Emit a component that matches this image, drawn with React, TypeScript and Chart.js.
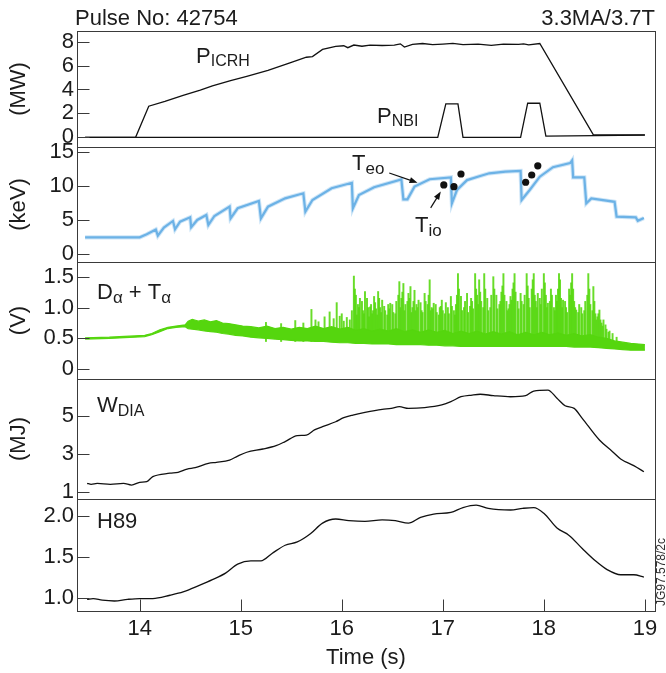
import React, { useEffect, useRef } from "react";
import { Chart, registerables } from "chart.js";
Chart.register(...registerables);

const FONT = "'Liberation Sans', Arial, Helvetica, sans-serif";
const INK = "#1c1c1c";
const FRAME = "#3a3a3a";
const BLUE_CORE = "#6cb2e6";
const BLUE_HALO = "rgba(130,190,236,0.4)";
const GREEN = "#55d60e";
const SPIKE_GREEN = "rgba(88,216,18,0.9)";
const PAD = 16;

const X_MIN = 13.38;
const X_MAX = 19.1;
const X_TICKS = [14, 15, 16, 17, 18, 19];
const X_LABELS = ["14", "15", "16", "17", "18", "19"];

// ---- Panel 1: heating power (MW)
const icrhTime = [13.46, 13.96, 14.09, 14.25, 14.43, 14.6, 14.72, 14.9, 15.06, 15.27,
  15.48, 15.65, 15.71, 15.81, 15.94, 16.02, 16.06, 16.12, 16.2, 16.28,
  16.4, 16.52, 16.58, 16.62, 16.7, 16.8, 16.9, 17.0, 17.1, 17.2,
  17.35, 17.48, 17.6, 17.75, 17.8, 17.85, 17.96, 18.49, 19.0];
const icrhMW = [0, 0, 2.6, 3.0, 3.5, 3.95, 4.3, 4.75, 5.1, 5.6,
  6.2, 6.7, 6.75, 7.35, 7.6, 7.66, 7.5, 7.72, 7.62, 7.72,
  7.68, 7.72, 7.82, 7.55, 7.78, 7.85, 7.75, 7.8, 7.86, 7.76,
  7.8, 7.7, 7.8, 7.78, 7.82, 7.74, 7.85, 0.2, 0.2];
const nbiTime = [13.46, 16.95, 17.03, 17.15, 17.2, 17.77, 17.84, 17.96, 18.02, 19.0];
const nbiMW = [0, 0, 2.8, 2.8, 0, 0, 2.85, 2.85, 0.1, 0.18];

// ---- Panel 2: central temperatures (keV)
const teoTime = [13.46, 14.0, 14.07, 14.16, 14.18, 14.24, 14.33, 14.35, 14.4, 14.5,
  14.51, 14.57, 14.66, 14.68, 14.74, 14.89, 14.9, 14.97, 15.18, 15.2,
  15.27, 15.44, 15.62, 15.64, 15.71, 15.9, 16.1, 16.11, 16.17, 16.32,
  16.59, 16.61, 16.65, 16.72, 16.87, 17.08, 17.09, 17.14, 17.24, 17.37,
  17.46, 17.62, 17.77, 17.78, 17.86, 17.96, 18.09, 18.26, 18.28, 18.29,
  18.4, 18.42, 18.47, 18.7, 18.72, 18.91, 18.93, 18.99];
const teoKeV = [2.46, 2.46, 2.9, 3.6, 2.7, 3.9, 4.87, 3.64, 4.77, 5.41,
  3.94, 5.02, 5.75, 4.28, 5.61, 6.98, 5.26, 6.74, 7.82, 5.26,
  6.98, 8.21, 8.95, 6.25, 7.97, 9.69, 10.5, 6.74, 8.71, 9.84,
  11.0, 8.07, 8.07, 9.94, 11.02, 11.3, 7.48, 9.44, 10.9, 11.5,
  11.9, 12.15, 12.25, 7.97, 9.44, 11.4, 12.8, 13.4, 13.8, 11.3,
  11.3, 7.48, 8.2, 7.7, 5.5, 5.4, 4.9, 5.3];
const tioTime = [17.01, 17.11, 17.18, 17.82, 17.88, 17.94];
const tioKeV = [10.18, 9.93, 11.8, 10.58, 11.65, 13.0];
// annotation arrows [t0, v0, t1, v1] in data units
const teoArrow = [16.47, 11.95, 16.75, 10.5];
const tioArrow = [16.88, 6.8, 16.98, 9.2];

// ---- Panel 3: D-alpha + T-alpha (V)
const daTime = [13.46, 13.7, 13.95, 14.05, 14.12, 14.2, 14.28, 14.36, 14.45, 14.48,
  14.52, 14.58, 14.64, 14.7, 14.76, 14.82, 14.88, 14.95, 15.02, 15.1,
  15.18, 15.26, 15.34, 15.42, 15.5, 15.58, 15.66, 15.74, 15.82, 15.9,
  15.98, 16.06, 16.14, 16.22, 16.3, 16.38, 16.46, 16.54, 16.62, 16.7,
  16.78, 16.86, 16.94, 17.02, 17.1, 17.18, 17.26, 17.34, 17.42, 17.5,
  17.58, 17.66, 17.74, 17.82, 17.9, 17.98, 18.06, 18.14, 18.22, 18.3,
  18.38, 18.46, 18.54, 18.62, 18.7, 18.78, 18.86, 18.94, 19.0];
const daLow = [0.49, 0.5, 0.52, 0.53, 0.56, 0.61, 0.66, 0.68, 0.69, 0.66,
  0.65, 0.64, 0.62, 0.61, 0.6, 0.58, 0.57, 0.55, 0.54, 0.52,
  0.51, 0.5, 0.49, 0.48, 0.47, 0.46, 0.46, 0.45, 0.45, 0.44,
  0.43, 0.43, 0.42, 0.42, 0.41, 0.41, 0.41, 0.4, 0.4, 0.4,
  0.4, 0.39, 0.39, 0.38, 0.38, 0.37, 0.37, 0.37, 0.37, 0.37,
  0.37, 0.37, 0.37, 0.37, 0.37, 0.37, 0.37, 0.37, 0.37, 0.36,
  0.36, 0.36, 0.35, 0.34, 0.33, 0.32, 0.31, 0.31, 0.31];
const daHigh = [0.51, 0.52, 0.54, 0.55, 0.58, 0.64, 0.68, 0.7, 0.72, 0.78,
  0.81, 0.78, 0.8, 0.77, 0.79, 0.75, 0.74, 0.72, 0.7, 0.69,
  0.67, 0.7, 0.66, 0.68, 0.65, 0.68, 0.66, 0.7, 0.66, 0.69,
  0.65, 0.68, 0.63, 0.66, 0.62, 0.65, 0.62, 0.66, 0.61, 0.64,
  0.6, 0.64, 0.6, 0.63, 0.58, 0.62, 0.58, 0.62, 0.57, 0.61,
  0.57, 0.61, 0.56, 0.6, 0.56, 0.6, 0.56, 0.59, 0.55, 0.58,
  0.54, 0.56, 0.52, 0.5, 0.46, 0.44, 0.42, 0.41, 0.4];
const SPIKE_BASE = 0.45;
// main (tallest) spikes
const spikeTime = [15.25, 15.4, 15.54, 15.62, 15.7, 15.74, 15.77, 15.83, 15.88, 15.92,
  15.95, 15.98, 16.0, 16.05, 16.08, 16.12, 16.14, 16.16, 16.18, 16.21,
  16.23, 16.26, 16.28, 16.3, 16.32, 16.34, 16.36, 16.38, 16.4, 16.43,
  16.46, 16.48, 16.51, 16.54, 16.57, 16.59, 16.61, 16.63, 16.66, 16.68,
  16.7, 16.72, 16.74, 16.76, 16.79, 16.82, 16.85, 16.87, 16.89, 16.91,
  16.94, 16.97, 16.99, 17.02, 17.05, 17.08, 17.11, 17.13, 17.15, 17.18,
  17.21, 17.24, 17.27, 17.29, 17.32, 17.34, 17.36, 17.38, 17.41, 17.44,
  17.47, 17.5, 17.53, 17.56, 17.58, 17.6, 17.63, 17.65, 17.67, 17.69,
  17.71, 17.74, 17.77, 17.8, 17.83, 17.85, 17.88, 17.9, 17.92, 17.94,
  17.97, 18.0, 18.02, 18.04, 18.07, 18.1, 18.12, 18.15, 18.17, 18.19,
  18.22, 18.25, 18.28, 18.3, 18.32, 18.35, 18.38, 18.41, 18.44, 18.46,
  18.49, 18.51, 18.53, 18.55, 18.57, 18.59, 18.62, 18.65, 18.68, 18.72];
const spikePeak = [0.76, 0.74, 0.79, 0.75, 0.97, 0.8, 0.77, 0.85, 0.93, 0.82,
  1.08, 0.86, 0.9, 0.84, 0.8, 1.51, 1.2, 1.05, 1.15, 0.95,
  1.26, 1.0, 1.01, 0.9, 1.18, 0.98, 1.26, 1.0, 1.12, 0.95,
  1.05, 1.07, 0.92, 1.1, 1.42, 1.15, 1.39, 1.05, 1.23, 1.34,
  1.0, 1.28, 1.05, 1.12, 0.95, 1.23, 1.05, 1.45, 1.0, 1.07,
  0.92, 1.0, 1.12, 0.9, 1.0, 1.18, 0.95, 1.05, 1.55, 1.18,
  1.0, 1.23, 1.02, 1.1, 1.55, 1.2, 1.45, 1.1, 1.55, 1.15,
  1.0, 1.5, 1.2, 1.05, 1.25, 1.55, 1.1, 0.98, 1.18, 1.3,
  1.55, 1.1, 1.23, 1.05, 1.55, 1.15, 1.3, 1.55, 1.1, 1.23,
  1.05, 1.55, 1.2, 1.07, 1.3, 1.0, 1.2, 1.55, 1.15, 1.12,
  1.0, 1.3, 1.55, 1.1, 0.96, 1.05, 0.9, 1.1, 1.55, 1.05,
  1.34, 0.9, 0.85, 0.96, 0.75, 0.8, 0.65, 0.62, 0.58, 0.52];
// secondary spikes filling the burst region
const spike2Time = [16.02, 16.1, 16.13, 16.15, 16.17, 16.2, 16.22, 16.25, 16.27, 16.29,
  16.31, 16.33, 16.35, 16.37, 16.39, 16.42, 16.45, 16.47, 16.5, 16.53,
  16.56, 16.58, 16.6, 16.62, 16.65, 16.67, 16.69, 16.71, 16.73, 16.75,
  16.78, 16.8, 16.83, 16.86, 16.88, 16.9, 16.93, 16.96, 16.98, 17.0,
  17.03, 17.06, 17.09, 17.12, 17.14, 17.16, 17.19, 17.22, 17.25, 17.28,
  17.3, 17.33, 17.35, 17.37, 17.4, 17.42, 17.45, 17.48, 17.51, 17.54,
  17.57, 17.59, 17.61, 17.64, 17.66, 17.68, 17.7, 17.72, 17.75, 17.78,
  17.81, 17.84, 17.86, 17.89, 17.91, 17.93, 17.96, 17.98, 18.01, 18.03,
  18.06, 18.08, 18.11, 18.13, 18.14, 18.16, 18.18, 18.21, 18.23, 18.26,
  18.27, 18.29, 18.31, 18.34, 18.37, 18.4, 18.43, 18.45, 18.48, 18.5,
  18.52, 18.54, 18.56, 18.58, 18.61, 18.64];
const spike2Peak = [0.78, 0.95, 1.3, 0.88, 1.0, 1.1, 0.9, 1.15, 0.85, 1.05,
  0.95, 1.08, 0.88, 1.15, 0.92, 1.02, 0.88, 0.98, 1.05, 0.9,
  1.2, 1.0, 1.25, 0.95, 1.1, 1.15, 0.92, 1.1, 0.95, 1.0,
  1.08, 0.92, 1.1, 1.2, 0.95, 0.98, 1.05, 0.88, 1.02, 0.95,
  1.08, 0.9, 1.02, 0.88, 1.2, 1.3, 0.95, 1.1, 0.92, 1.15,
  0.98, 1.3, 1.05, 1.25, 1.0, 1.3, 0.95, 1.2, 1.3, 0.98,
  1.1, 1.35, 1.2, 0.95, 1.05, 1.12, 1.4, 1.25, 0.98, 1.1,
  1.2, 1.35, 1.0, 1.45, 1.2, 1.0, 1.15, 1.3, 1.4, 1.0,
  1.1, 1.2, 0.95, 1.1, 1.3, 1.45, 1.0, 1.1, 0.92, 1.2,
  1.4, 1.3, 1.0, 0.92, 1.0, 0.95, 1.2, 1.3, 0.95, 1.1,
  0.8, 0.9, 0.8, 0.7, 0.72, 0.6];

// ---- Panel 4: diamagnetic energy (MJ)
const wdiaTime = [13.48, 13.52, 13.58, 13.71, 13.84, 13.92, 14.0, 14.07, 14.13, 14.3,
  14.38, 14.47, 14.55, 14.68, 14.76, 14.89, 14.97, 15.06, 15.22, 15.35,
  15.44, 15.56, 15.65, 15.73, 15.81, 15.94, 16.02, 16.11, 16.23, 16.4,
  16.49, 16.57, 16.66, 16.82, 16.99, 17.08, 17.18, 17.29, 17.37, 17.5,
  17.67, 17.82, 17.9, 18.04, 18.13, 18.21, 18.3, 18.38, 18.55, 18.68,
  18.76, 18.89, 18.99];
const wdiaMJ = [1.47, 1.42, 1.47, 1.42, 1.47, 1.38, 1.52, 1.56, 1.82, 2.0,
  2.05, 2.22, 2.29, 2.52, 2.57, 2.69, 2.9, 3.1, 3.27, 3.45,
  3.66, 3.97, 4.0, 4.27, 4.44, 4.7, 4.91, 5.05, 5.19, 5.35,
  5.4, 5.49, 5.4, 5.44, 5.58, 5.75, 6.01, 6.1, 6.14, 6.07,
  6.01, 6.07, 6.31, 6.36, 5.93, 5.54, 5.4, 4.88, 3.74, 3.13,
  2.75, 2.4, 2.08];

// ---- Panel 5: H89 confinement factor
const h89Time = [13.48, 13.54, 13.63, 13.75, 13.88, 14.0, 14.13, 14.3, 14.43, 14.59,
  14.72, 14.85, 14.97, 15.1, 15.2, 15.31, 15.44, 15.56, 15.69, 15.81,
  15.94, 16.07, 16.23, 16.4, 16.53, 16.66, 16.78, 16.91, 17.08, 17.2,
  17.33, 17.45, 17.67, 17.79, 17.9, 18.0, 18.13, 18.25, 18.38, 18.51,
  18.63, 18.76, 18.89, 18.99];
const h89 = [0.98, 0.99, 0.97, 0.96, 0.98, 0.99, 0.99, 1.03, 1.07, 1.15,
  1.22, 1.3, 1.41, 1.45, 1.45, 1.54, 1.64, 1.68, 1.78, 1.91,
  1.96, 1.94, 1.93, 1.95, 1.94, 1.91, 1.98, 2.02, 2.04, 2.1,
  2.13, 2.09, 2.07, 2.09, 2.1, 2.03, 1.85, 1.76, 1.6, 1.45,
  1.34, 1.28, 1.28, 1.25];

const pts = (xs: number[], ys: any[]) => xs.map((x, i) => ({ x, y: ys[i] }));

const lineDs = (xs: number[], ys: number[], color: string, width: number, extra: any = {}) => ({
  type: "line",
  data: pts(xs, ys),
  borderColor: color,
  borderWidth: width,
  pointRadius: 0,
  tension: 0,
  fill: false,
  ...extra,
});

const spikeDs = (xs: number[], peaks: number[]) => ({
  type: "bar",
  data: pts(xs, peaks.map((p) => [SPIKE_BASE, p])),
  backgroundColor: SPIKE_GREEN,
  borderWidth: 0,
  barThickness: 1.3,
  grouped: false,
});

const frameTicks = {
  id: "frameTicks",
  afterDraw(chart: any) {
    const { ctx, chartArea: a, scales } = chart;
    ctx.save();
    ctx.strokeStyle = FRAME;
    ctx.lineWidth = 1;
    const L = Math.round(a.left) + 0.5;
    const R = Math.round(a.right) + 0.5;
    const T = Math.round(a.top) + 0.5;
    const B = Math.round(a.bottom) + 0.5;
    ctx.strokeRect(L, T, R - L, B - T);
    ctx.beginPath();
    for (const t of scales.y.ticks) {
      const y = Math.round(scales.y.getPixelForValue(t.value)) + 0.5;
      ctx.moveTo(L, y);
      ctx.lineTo(L + 12, y);
    }
    if (scales.x.options.display) {
      for (const t of scales.x.ticks) {
        const x = Math.round(scales.x.getPixelForValue(t.value)) + 0.5;
        ctx.moveTo(x, B);
        ctx.lineTo(x, B - 12);
      }
    }
    ctx.stroke();
    ctx.restore();
  },
};

const arrows = {
  id: "arrows",
  afterDatasetsDraw(chart: any) {
    const { ctx, scales } = chart;
    ctx.save();
    ctx.strokeStyle = "#111";
    ctx.fillStyle = "#111";
    ctx.lineWidth = 1.2;
    for (const a of [teoArrow, tioArrow]) {
      const x1 = scales.x.getPixelForValue(a[0]);
      const y1 = scales.y.getPixelForValue(a[1]);
      const x2 = scales.x.getPixelForValue(a[2]);
      const y2 = scales.y.getPixelForValue(a[3]);
      const ang = Math.atan2(y2 - y1, x2 - x1);
      ctx.beginPath();
      ctx.moveTo(x1, y1);
      ctx.lineTo(x2 - 5 * Math.cos(ang), y2 - 5 * Math.sin(ang));
      ctx.stroke();
      ctx.beginPath();
      ctx.moveTo(x2, y2);
      ctx.lineTo(x2 - 8 * Math.cos(ang) + 3 * Math.sin(ang), y2 - 8 * Math.sin(ang) - 3 * Math.cos(ang));
      ctx.lineTo(x2 - 8 * Math.cos(ang) - 3 * Math.sin(ang), y2 - 8 * Math.sin(ang) + 3 * Math.cos(ang));
      ctx.closePath();
      ctx.fill();
    }
    ctx.restore();
  },
};

type PanelSpec = {
  frameTop: number;
  frameBottom: number;
  bottomAxis: boolean;
  yMin: number;
  yMax: number;
  yTicks: number[];
  yLabels: string[];
  yTitle: string;
  datasets: any[];
  plugins?: any[];
};

const X_AXIS_H = 62;

function buildConfig(s: PanelSpec): any {
  const tickFont = { family: FONT, size: 22 };
  const titleFont = { family: FONT, size: 22 };
  const xScale = s.bottomAxis
    ? {
        type: "linear",
        min: X_MIN,
        max: X_MAX,
        offset: false,
        afterFit: (sc: any) => {
          sc.height = X_AXIS_H;
          sc.paddingLeft = 0;
          sc.paddingRight = 0;
        },
        afterBuildTicks: (sc: any) => {
          sc.ticks = X_TICKS.map((v) => ({ value: v }));
        },
        ticks: {
          font: tickFont,
          color: INK,
          padding: 5,
          maxRotation: 0,
          autoSkip: false,
          callback: (_v: any, i: number) => X_LABELS[i],
        },
        grid: { display: false, drawTicks: false },
        border: { display: false },
        title: { display: true, text: "Time (s)", font: titleFont, color: INK, padding: { top: 0, bottom: 2 } },
      }
    : { type: "linear", display: false, min: X_MIN, max: X_MAX, offset: false };
  return {
    type: "line",
    data: { datasets: s.datasets },
    options: {
      responsive: false,
      animation: false,
      devicePixelRatio: 1,
      events: [],
      layout: { padding: { left: 0, right: 11, top: PAD, bottom: s.bottomAxis ? 0 : PAD } },
      plugins: { legend: { display: false }, tooltip: { enabled: false }, title: { display: false } },
      scales: {
        x: xScale,
        y: {
          type: "linear",
          min: s.yMin,
          max: s.yMax,
          afterFit: (sc: any) => {
            sc.width = 77;
            sc.paddingTop = 0;
            sc.paddingBottom = 0;
          },
          afterBuildTicks: (sc: any) => {
            sc.ticks = s.yTicks.map((v) => ({ value: v }));
          },
          ticks: {
            font: tickFont,
            color: INK,
            padding: 3,
            autoSkip: false,
            callback: (_v: any, i: number) => s.yLabels[i],
          },
          grid: { display: false, drawTicks: false },
          border: { display: false },
          title: {
            display: !!s.yTitle,
            text: s.yTitle,
            font: { family: FONT, size: 22 },
            color: INK,
            padding: { top: 6, bottom: 0 },
          },
        },
      },
    },
    plugins: [frameTicks, ...(s.plugins || [])],
  };
}

function Panel({ spec }: { spec: PanelSpec }) {
  const ref = useRef<HTMLCanvasElement>(null);
  const top = spec.frameTop - PAD;
  const height = spec.bottomAxis ? 673 - top : spec.frameBottom - spec.frameTop + 2 * PAD;
  useEffect(() => {
    const chart = new Chart(ref.current as HTMLCanvasElement, buildConfig(spec));
    return () => chart.destroy();
  }, []);
  return (
    <canvas
      ref={ref}
      width={666}
      height={height}
      style={{ position: "absolute", left: 0, top, width: 666, height }}
    />
  );
}

const panels: PanelSpec[] = [
  {
    frameTop: 31,
    frameBottom: 147,
    bottomAxis: false,
    yMin: -0.812,
    yMax: 8.895,
    yTicks: [0, 2, 4, 6, 8],
    yLabels: ["0", "2", "4", "6", "8"],
    yTitle: "(MW)",
    datasets: [lineDs(icrhTime, icrhMW, "#111", 1.3), lineDs(nbiTime, nbiMW, "#111", 1.3)],
  },
  {
    frameTop: 147,
    frameBottom: 262,
    bottomAxis: false,
    yMin: -1.18,
    yMax: 15.78,
    yTicks: [0, 5, 10, 15],
    yLabels: ["0", "5", "10", "15"],
    yTitle: "(keV)",
    datasets: [
      {
        type: "line",
        data: pts(tioTime, tioKeV),
        showLine: false,
        pointRadius: 3.6,
        pointBackgroundColor: "#111",
        pointBorderWidth: 0,
        order: 0,
      },
      lineDs(teoTime, teoKeV, BLUE_CORE, 2.2, { order: 1 }),
      lineDs(teoTime, teoKeV, BLUE_HALO, 4.2, { order: 2 }),
    ],
    plugins: [arrows],
  },
  {
    frameTop: 262,
    frameBottom: 379,
    bottomAxis: false,
    yMin: -0.157,
    yMax: 1.738,
    yTicks: [0, 0.5, 1, 1.5],
    yLabels: ["0", "0.5", "1.0", "1.5"],
    yTitle: "(V)",
    datasets: [
      lineDs(daTime, daLow, GREEN, 1.2),
      lineDs(daTime, daHigh, GREEN, 1.2, { fill: "-1", backgroundColor: GREEN }),
      spikeDs(spikeTime, spikePeak),
      spikeDs(spike2Time, spike2Peak),
    ],
  },
  {
    frameTop: 379,
    frameBottom: 499,
    bottomAxis: false,
    yMin: 0.649,
    yMax: 6.94,
    yTicks: [1, 3, 5],
    yLabels: ["1", "3", "5"],
    yTitle: "(MJ)",
    datasets: [lineDs(wdiaTime, wdiaMJ, "#111", 1.3, { cubicInterpolationMode: "monotone" })],
  },
  {
    frameTop: 499,
    frameBottom: 611,
    bottomAxis: true,
    yMin: 0.838,
    yMax: 2.204,
    yTicks: [1, 1.5, 2],
    yLabels: ["1.0", "1.5", "2.0"],
    yTitle: "",
    datasets: [lineDs(h89Time, h89, "#111", 1.3, { cubicInterpolationMode: "monotone" })],
  },
];

function Txt({ x, base, size = 22, right = false, children }: any) {
  const style: React.CSSProperties = {
    position: "absolute",
    top: base - 0.905 * size,
    fontSize: size,
    fontFamily: FONT,
    color: INK,
    whiteSpace: "nowrap",
    lineHeight: "normal",
  };
  if (right) style.right = 666 - x;
  else style.left = x;
  return <div style={style}>{children}</div>;
}

function Sub({ children, size = 15, dy = 4 }: any) {
  return <span style={{ fontSize: size, position: "relative", top: dy }}>{children}</span>;
}

export default function App() {
  return (
    <div style={{ position: "absolute", left: 0, top: 0, width: 666, height: 673, background: "#fff", overflow: "hidden" }}>
      {panels.map((p, i) => (
        <Panel key={i} spec={p} />
      ))}
      <Txt x={75} base={25}>Pulse No: 42754</Txt>
      <Txt x={655} base={25} right>3.3MA/3.7T</Txt>
      <Txt x={196} base={63}>
        P<Sub size={16} dy={3}>ICRH</Sub>
      </Txt>
      <Txt x={377} base={123}>
        P<Sub size={16} dy={3}>NBI</Sub>
      </Txt>
      <Txt x={352} base={170}>
        T<Sub size={17} dy={4}>eo</Sub>
      </Txt>
      <Txt x={415} base={232}>
        T<Sub size={17} dy={4}>io</Sub>
      </Txt>
      <Txt x={97} base={299}>
        D<Sub size={17} dy={4}>α</Sub> + T<Sub size={17} dy={4}>α</Sub>
      </Txt>
      <Txt x={97} base={412}>
        W<Sub size={16} dy={4}>DIA</Sub>
      </Txt>
      <Txt x={97} base={528}>H89</Txt>
      <div
        style={{
          position: "absolute",
          left: 655,
          top: 606,
          transform: "rotate(-90deg)",
          transformOrigin: "left top",
          fontSize: 12,
          fontFamily: FONT,
          color: "#333",
          whiteSpace: "nowrap",
          lineHeight: "12px",
        }}
      >
        JG97.578/2c
      </div>
    </div>
  );
}
